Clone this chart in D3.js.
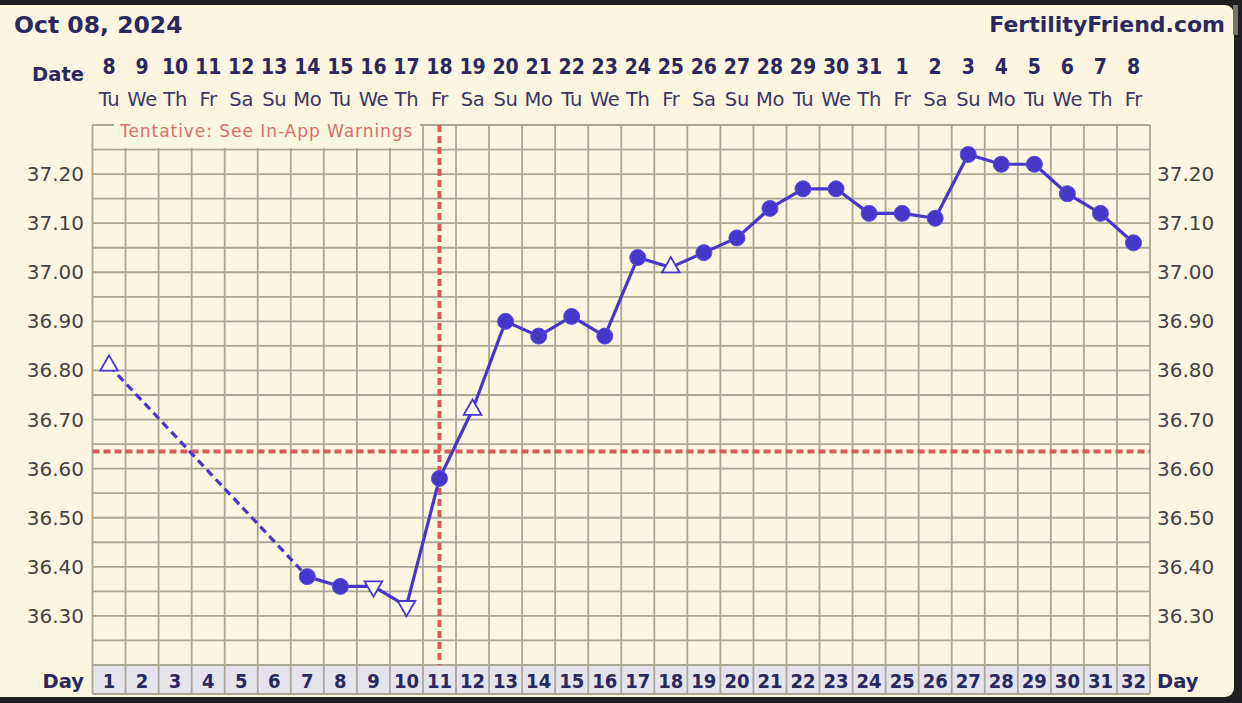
<!DOCTYPE html>
<html>
<head>
<meta charset="utf-8">
<script src="https://cdn.jsdelivr.net/npm/d3@7"></script>
<style>
  html, body { margin: 0; padding: 0; background: #1f1f21; }
  svg { display: block; font-family: "DejaVu Sans", Verdana, sans-serif; }
</style>
</head>
<body>
<div id="chart"></div>
<script>
// chart data
const days = d3.range(1, 33)
const dates = [8, 9, 10, 11, 12, 13, 14, 15, 16, 17, 18, 19, 20, 21, 22, 23, 24, 25, 26, 27, 28, 29, 30, 31, 1, 2, 3, 4, 5, 6, 7, 8]
const weekdays = ["Tu","We","Th","Fr","Sa","Su","Mo","Tu","We","Th","Fr","Sa","Su","Mo","Tu","We","Th","Fr","Sa","Su","Mo","Tu","We","Th","Fr","Sa","Su","Mo","Tu","We","Th","Fr"]
const temps = [36.81, null, null, null, null, null, 36.38, 36.36, 36.36, 36.32, 36.58, 36.72, 36.90, 36.87, 36.91, 36.87,
               37.03, 37.01, 37.04, 37.07, 37.13, 37.17, 37.17, 37.12, 37.12, 37.11, 37.24, 37.22, 37.22, 37.16, 37.12, 37.06]
// c = filled circle, u = open triangle up, d = open triangle down
const markers = ["u","","","","","","c","c","d","d","c","u","c","c","c","c","c","u","c","c","c","c","c","c","c","c","c","c","c","c","c","c"]
const yTicks = [36.30, 36.40, 36.50, 36.60, 36.70, 36.80, 36.90, 37.00, 37.10, 37.20]
const coverline = 36.635
const ovulationDay = 11
const title = "Oct 08, 2024"
const brand = "FertilityFriend.com"
const note = "Tentative: See In-App Warnings"

const width = 1242, height = 703
const navy = "#2b2860", blue = "#4636c9", red = "#d65c58", gridCol = "#aaa797"
const cream = "#fbf6e0"

const x = d3.scaleLinear().domain([0.5, 32.5]).range([92.5, 1150])
const y = d3.scaleLinear().domain([36.20, 37.30]).range([665, 125])

const svg = d3.select("#chart").append("svg")
    .attr("width", width)
    .attr("height", height)

svg.append("rect").attr("width", width).attr("height", height).attr("fill", "#1f1f21")
svg.append("rect")
    .attr("x", -12).attr("y", 5).attr("width", 1246).attr("height", 692)
    .attr("rx", 9).attr("fill", cream)
svg.append("rect").attr("x", 1233).attr("y", 5).attr("width", 5).attr("height", 30).attr("fill", "#77746c")

// day row background
svg.append("rect")
    .attr("x", x(0.5)).attr("y", y(36.20))
    .attr("width", x(32.5) - x(0.5)).attr("height", 29)
    .attr("fill", "#e5e4ec")

// grid
const grid = svg.append("g").attr("stroke", gridCol).attr("stroke-width", 1.8)
grid.selectAll("line.h")
    .data(d3.range(0, 23).map(i => 36.20 + i * 0.05))
    .join("line")
    .attr("class", "h")
    .attr("x1", x(0.5)).attr("x2", x(32.5))
    .attr("y1", d => y(d)).attr("y2", d => y(d))
grid.append("line")
    .attr("x1", x(0.5)).attr("x2", x(32.5))
    .attr("y1", y(36.20) + 29).attr("y2", y(36.20) + 29)
grid.selectAll("line.v")
    .data(d3.range(0, 33))
    .join("line")
    .attr("class", "v")
    .attr("x1", d => x(d + 0.5)).attr("x2", d => x(d + 0.5))
    .attr("y1", y(37.30)).attr("y2", y(36.20) + 29)

// tentative label box hides the top row of the grid
svg.append("rect")
    .attr("x", 114).attr("y", y(37.30) - 2)
    .attr("width", 306).attr("height", y(37.25) - y(37.30) + 0.5)
    .attr("fill", cream)
svg.append("text")
    .attr("x", 120).attr("y", 137)
    .attr("fill", "#d9706e")
    .attr("font-size", 17).attr("letter-spacing", 0.95)
    .text(note)

// coverline and ovulation line
svg.append("line")
    .attr("x1", x(0.5)).attr("x2", x(32.5))
    .attr("y1", y(coverline)).attr("y2", y(coverline))
    .attr("stroke", red).attr("stroke-width", 4).attr("stroke-dasharray", "7,4")
svg.append("line")
    .attr("x1", x(ovulationDay)).attr("x2", x(ovulationDay))
    .attr("y1", y(37.30)).attr("y2", y(36.20))
    .attr("stroke", red).attr("stroke-width", 4).attr("stroke-dasharray", "7,4")

// y labels both sides
const yl = svg.append("g").attr("font-size", 20).attr("fill", "#434343")
yl.selectAll("text.l").data(yTicks).join("text")
    .attr("class", "l")
    .attr("x", 84).attr("y", d => y(d) + 7)
    .attr("text-anchor", "end")
    .text(d => d.toFixed(2))
yl.selectAll("text.r").data(yTicks).join("text")
    .attr("class", "r")
    .attr("x", 1157).attr("y", d => y(d) + 7)
    .text(d => d.toFixed(2))

// header
svg.append("text").attr("x", 14).attr("y", 33)
    .attr("font-size", 23.5).attr("font-weight", "bold").attr("fill", navy)
    .text(title)
svg.append("text").attr("x", 1225).attr("y", 32)
    .attr("text-anchor", "end")
    .attr("font-size", 22).attr("font-weight", "bold").attr("fill", navy)
    .text(brand)
svg.append("text").attr("x", 84).attr("y", 81)
    .attr("text-anchor", "end")
    .attr("font-size", 19.5).attr("font-weight", "bold").attr("fill", navy)
    .text("Date")

svg.append("g").selectAll("text").data(days).join("text")
    .attr("x", d => x(d)).attr("y", 74)
    .attr("text-anchor", "middle")
    .attr("font-family", "'DejaVu Sans Condensed', 'DejaVu Sans', sans-serif")
    .attr("font-size", 21).attr("font-weight", "bold").attr("fill", navy)
    .text((d, i) => dates[i])
svg.append("g").selectAll("text").data(days).join("text")
    .attr("x", d => x(d)).attr("y", 106)
    .attr("text-anchor", "middle")
    .attr("font-size", 19.5).attr("fill", "#3a3862")
    .attr("letter-spacing", -0.3)
    .text((d, i) => weekdays[i])

// day row
svg.append("g").selectAll("text").data(days).join("text")
    .attr("x", d => x(d)).attr("y", 688)
    .attr("text-anchor", "middle")
    .attr("font-family", "'DejaVu Sans Condensed', 'DejaVu Sans', sans-serif")
    .attr("font-size", 20).attr("font-weight", "bold").attr("fill", navy)
    .text(d => d)
svg.append("text").attr("x", 84).attr("y", 688)
    .attr("text-anchor", "end")
    .attr("font-size", 19.5).attr("font-weight", "bold").attr("fill", navy)
    .text("Day")
svg.append("text").attr("x", 1157).attr("y", 688)
    .attr("font-size", 19.5).attr("font-weight", "bold").attr("fill", navy)
    .text("Day")

// temperature line
const pts = days.map((d, i) => ({day: d, t: temps[i], m: markers[i]})).filter(p => p.t !== null)
const segs = d3.pairs(pts)
svg.append("g").selectAll("line").data(segs).join("line")
    .attr("x1", d => x(d[0].day)).attr("y1", d => y(d[0].t))
    .attr("x2", d => x(d[1].day)).attr("y2", d => y(d[1].t))
    .attr("stroke", blue).attr("stroke-width", 3.2)
    .attr("stroke-dasharray", d => d[1].day - d[0].day > 1 ? "8,5" : null)

const tri = d3.symbol().type(d3.symbolTriangle).size(135)
const mk = svg.append("g")
mk.selectAll("circle").data(pts.filter(p => p.m === "c")).join("circle")
    .attr("cx", d => x(d.day)).attr("cy", d => y(d.t))
    .attr("r", 8)
    .attr("fill", blue).attr("stroke", "#5a4ee0").attr("stroke-width", 1)
mk.selectAll("path").data(pts.filter(p => p.m === "u" || p.m === "d")).join("path")
    .attr("d", tri)
    .attr("transform", d => `translate(${x(d.day)},${y(d.t)})` + (d.m === "d" ? " rotate(180)" : ""))
    .attr("fill", "#fdfbf2").attr("stroke", blue).attr("stroke-width", 1.8)
</script>
</body>
</html>
